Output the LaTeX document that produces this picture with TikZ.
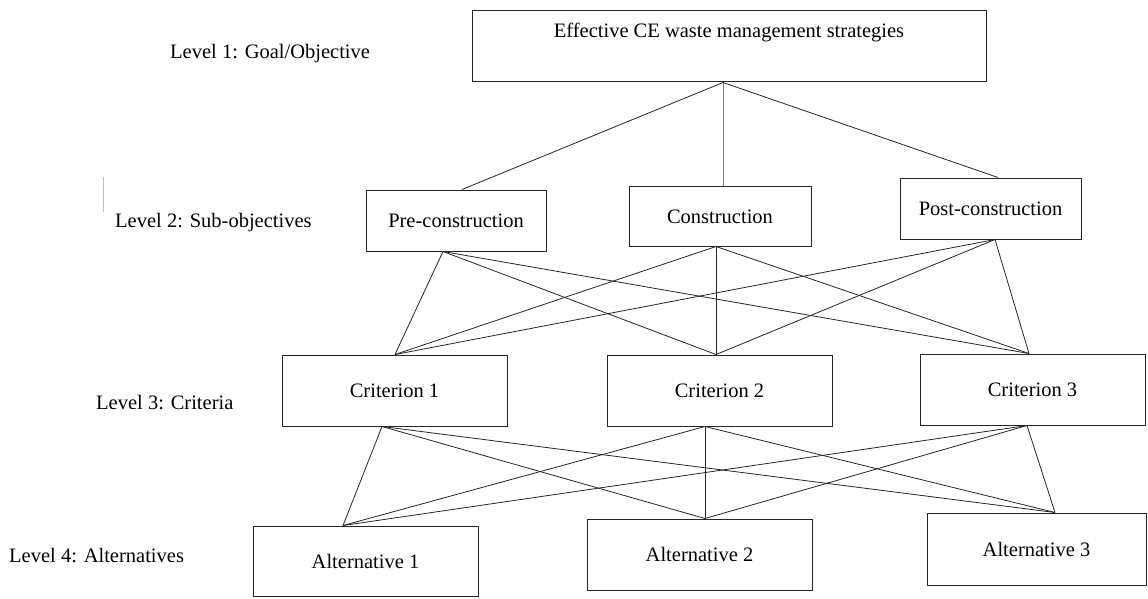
\documentclass[tikz,border=0pt]{standalone}
\usepackage{fontspec}
\setmainfont{Liberation Serif}
\usepackage{tikz}
\usetikzlibrary{shapes, arrows, positioning}
\tikzstyle{box} = [rectangle, draw=black!85, line width=1pt, inner sep=0pt, text height=14pt, text depth=0pt, font=\fontsize{20.5}{24}\selectfont]
\tikzstyle{lvl} = [anchor=west, inner sep=0pt, text height=14pt, text depth=0pt, font=\fontsize{20.5}{24}\selectfont]
\tikzstyle{line} = [draw, black!85, line width=0.8pt]

\begin{document}
\begin{tikzpicture}[x=1pt, y=-1pt]
	\useasboundingbox (0,0) rectangle (1148,599);

	% level labels
	\node [lvl] (l1) at (170, 52) {Level 1: Goal/Objective};
	\node [lvl] (l2) at (115, 220) {Level 2: Sub-objectives};
	\node [lvl] (l3) at (96, 402) {Level 3: Criteria};
	\node [lvl] (l4) at (9, 555) {Level 4: Alternatives};
	\node [fill=black!25, inner sep=0pt, minimum width=1pt, minimum height=35pt] (mark) at (103, 194.5) {};

	% boxes
	\node [box, minimum width=514pt, minimum height=71pt, text depth=31pt] (goal) at (729, 46.5) {Effective CE waste management strategies};
	\node [box, minimum width=180pt, minimum height=61pt] (pre) at (456, 220.5) {Pre-construction};
	\node [box, minimum width=182pt, minimum height=60pt] (cons) at (720, 216) {Construction};
	\node [box, minimum width=181pt, minimum height=61pt] (post) at (990.5, 208.5) {Post-construction};
	\node [box, minimum width=225pt, minimum height=71pt] (c1) at (394.5, 390.5) {Criterion 1};
	\node [box, minimum width=225pt, minimum height=71pt] (c2) at (719.5, 390.5) {Criterion 2};
	\node [box, minimum width=225pt, minimum height=71pt] (c3) at (1032.5, 389.5) {Criterion 3};
	\node [box, minimum width=225pt, minimum height=70pt] (a1) at (365.5, 561) {Alternative 1};
	\node [box, minimum width=225pt, minimum height=71pt] (a2) at (699.5, 554.5) {Alternative 2};
	\node [box, minimum width=219pt, minimum height=72pt] (a3) at (1036.5, 549) {Alternative 3};

	% where the lines meet the boxes
	\coordinate (goal-out) at ([xshift=-6pt]goal.south);
	\coordinate (pre-in) at ([xshift=6pt]pre.north);
	\coordinate (pre-out) at ([xshift=-13pt]pre.south);
	\coordinate (cons-in) at ([xshift=3pt]cons.north);
	\coordinate (cons-out) at ([xshift=-4pt]cons.south);
	\coordinate (post-in) at ([xshift=7.5pt]post.north);
	\coordinate (post-out) at ([xshift=4.5pt]post.south);
	\coordinate (c1-in) at ([xshift=0.5pt]c1.north);
	\coordinate (c1-out) at ([xshift=-12.5pt]c1.south);
	\coordinate (c2-in) at ([xshift=-3.5pt]c2.north);
	\coordinate (c2-out) at ([xshift=-14.5pt]c2.south);
	\coordinate (c3-in) at ([xshift=-3.5pt]c3.north);
	\coordinate (c3-out) at ([xshift=-5.5pt]c3.south);
	\coordinate (a1-in) at ([xshift=-22.5pt]a1.north);
	\coordinate (a2-in) at ([xshift=5.5pt]a2.north);
	\coordinate (a3-in) at ([xshift=18.5pt]a3.north);

	\path [line] (goal-out) -- (pre-in);
	\path [line, black!50] (goal-out) -- (cons-in);
	\path [line] (goal-out) -- (post-in);

	\path [line] (pre-out) -- (c1-in);
	\path [line] (pre-out) -- (c2-in);
	\path [line] (pre-out) -- (c3-in);
	\path [line] (cons-out) -- (c1-in);
	\path [line] (cons-out) -- (c2-in);
	\path [line] (cons-out) -- (c3-in);
	\path [line] (post-out) -- (c1-in);
	\path [line] (post-out) -- (c2-in);
	\path [line] (post-out) -- (c3-in);

	\path [line] (c1-out) -- (a1-in);
	\path [line] (c1-out) -- (a2-in);
	\path [line] (c1-out) -- (a3-in);
	\path [line] (c2-out) -- (a1-in);
	\path [line] (c2-out) -- (a2-in);
	\path [line] (c2-out) -- (a3-in);
	\path [line] (c3-out) -- (a1-in);
	\path [line] (c3-out) -- (a2-in);
	\path [line] (c3-out) -- (a3-in);
\end{tikzpicture}
\end{document}
